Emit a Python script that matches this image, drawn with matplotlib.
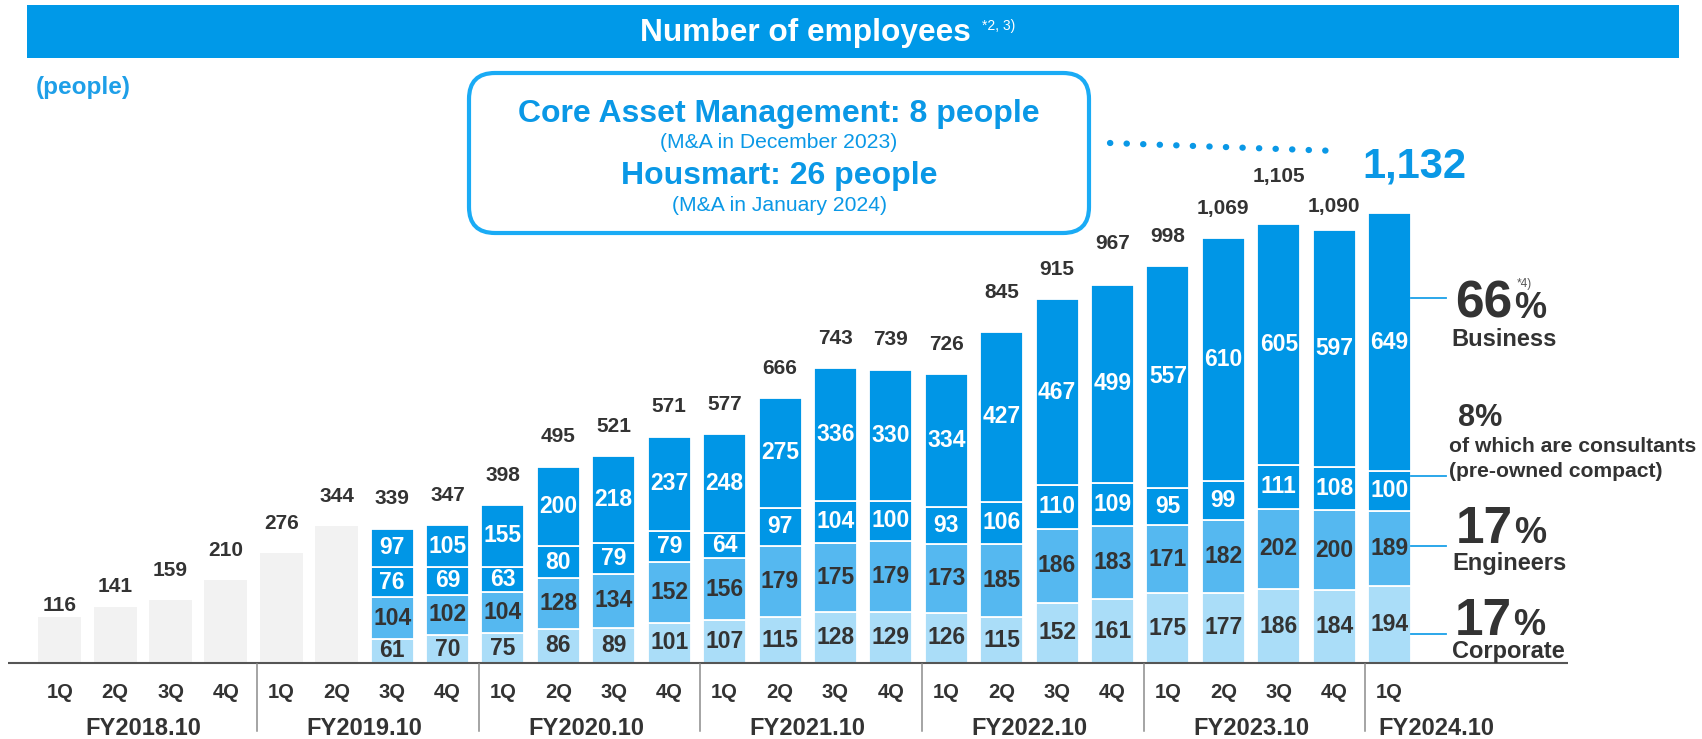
import matplotlib
matplotlib.use("Agg")
import matplotlib.pyplot as plt
from matplotlib.patches import FancyBboxPatch, Rectangle
from matplotlib.transforms import blended_transform_factory

# ---------------- data ----------------
quarters = ["1Q", "2Q", "3Q", "4Q"] * 6 + ["1Q"]
fiscal_years = ["FY2018.10", "FY2019.10", "FY2020.10", "FY2021.10",
                "FY2022.10", "FY2023.10", "FY2024.10"]
quarters_per_year = [4, 4, 4, 4, 4, 4, 1]
totals = [116, 141, 159, 210, 276, 344, 339, 347, 398, 495, 521, 571, 577,
          666, 743, 739, 726, 845, 915, 967, 998, 1069, 1105, 1090, 1132]

# breakdown is available from FY2019.10 3Q onwards
first_split = 6
corporate = [61, 70, 75, 86, 89, 101, 107, 115, 128, 129, 126, 115, 152, 161,
             175, 177, 186, 184, 194]
engineers = [104, 102, 104, 128, 134, 152, 156, 179, 175, 179, 173, 185, 186,
             183, 171, 182, 202, 200, 189]
consultants = [76, 69, 63, 80, 79, 79, 64, 97, 104, 100, 93, 106, 110, 109,
               95, 99, 111, 108, 100]
business = [97, 105, 155, 200, 218, 237, 248, 275, 336, 330, 334, 427, 467,
            499, 557, 610, 605, 597, 649]

share_values = ["66", "8", "17", "17"]
share_names = ["Business", "of which are consultants", "(pre-owned compact)",
               "Engineers", "Corporate"]

# ---------------- style ----------------
W, H = 1702, 739
FONT = "Liberation Sans"
plt.rcParams["font.family"] = [FONT, "DejaVu Sans"]

DARK = "#333333"
BLUE = "#0096E6"
MID = "#55B8F0"
LIGHT = "#AADDF8"
GREY = "#F2F2F2"
BANNER = "#0099E8"
TXT_BLUE = "#0A98E6"
BOX_EDGE = "#1AABF5"

PX_PER_BAR = 55.41
X0 = 59.7           # pixel x of first bar centre
BASE_Y = 663.0      # pixel y of the baseline
PX_PER_PERSON = 0.3975

# gap (px) between a total label's baseline and its bar top
label_gap = [6, 15, 24, 24, 24, 24, 24, 24, 24, 24, 24, 24, 24,
             24, 24, 24, 24, 29, 24, 30, 24, 24, 42, 18, 24]

fig = plt.figure(figsize=(W / 100, H / 100), dpi=100)
ax = fig.add_axes([0, 0, 1, 1])
ax.set_xlim(-X0 / PX_PER_BAR, (W - X0) / PX_PER_BAR)
ax.set_ylim(-(H - BASE_Y) / PX_PER_PERSON, BASE_Y / PX_PER_PERSON)
ax.axis("off")

# pixel-space overlay for the decorations
px = fig.add_axes([0, 0, 1, 1], zorder=3)
px.set_xlim(0, W)
px.set_ylim(H, 0)
px.axis("off")
px.patch.set_alpha(0)

bx = blended_transform_factory(ax.transData, px.transData)

n = len(totals)
idx = list(range(n))
bar_w = 43 / PX_PER_BAR

# grey bars (no breakdown)
ax.bar(idx[:first_split], totals[:first_split], width=bar_w, color=GREY,
       linewidth=0, zorder=2)

# stacked bars
sx = idx[first_split:]
bottom = [0] * len(sx)
layers = [(corporate, LIGHT, DARK), (engineers, MID, DARK),
          (consultants, BLUE, "white"), (business, BLUE, "white")]
for vals, col, tcol in layers:
    ax.bar(sx, vals, bottom=bottom, width=bar_w, color=col,
           edgecolor="white", linewidth=1.3, zorder=2)
    for x, v, b in zip(sx, vals, bottom):
        ax.text(x, b + v / 2, f"{v}", ha="center", va="center",
                fontsize=16.5, fontweight="bold", color=tcol, zorder=4)
    bottom = [b + v for b, v in zip(bottom, vals)]

# totals above the bars
for i, t in enumerate(totals):
    if i == n - 1:
        continue
    ax.annotate(f"{t:,}", xy=(i, t), xytext=(0, label_gap[i] * 0.72),
                textcoords="offset points", ha="center", va="baseline",
                fontsize=15, fontweight="bold", color=DARK, zorder=4)

# baseline
px.plot([8, 1568], [BASE_Y, BASE_Y], color="#555555", lw=1.5,
        solid_capstyle="butt")

# quarter labels
for i, q in enumerate(quarters):
    px.text(i, 697.7, q, transform=bx, ha="center", va="baseline",
            fontsize=14.5, fontweight="bold", color=DARK)

# fiscal year labels and separators
start = 0
for k, (fy, nq) in enumerate(zip(fiscal_years, quarters_per_year)):
    centre = start + (nq - 1) / 2
    if nq == 1:
        centre = start + 0.85
    px.text(centre, 735, fy, transform=bx, ha="center", va="baseline",
            fontsize=17, fontweight="bold", color=DARK)
    if k > 0:
        px.plot([start - 0.44, start - 0.44], [664, 731], transform=bx,
                color="#8C8C8C", lw=1.1)
    start += nq

# title banner
px.add_patch(Rectangle((27, 5), 1652, 52.5, facecolor=BANNER,
                       edgecolor="none"))
px.text(805.5, 41, "Number of employees", ha="center", va="baseline",
        fontsize=22.8, fontweight="bold", color="white")
px.text(982, 30, "*2, 3)", ha="left", va="baseline", fontsize=10,
        color="white")

px.text(36, 94, "(people)", ha="left", va="baseline", fontsize=17.5,
        fontweight="bold", color="#1E9FE8")

# acquisitions box
px.add_patch(FancyBboxPatch((469, 73), 620, 160,
                            boxstyle="round,pad=0,rounding_size=26",
                            facecolor="white", edgecolor=BOX_EDGE, lw=3))
px.text(779, 122, "Core Asset Management: 8 people", ha="center",
        va="baseline", fontsize=23, fontweight="bold", color=TXT_BLUE)
px.text(779, 148, "(M&A in December 2023)", ha="center", va="baseline",
        fontsize=15.2, color=TXT_BLUE)
px.text(779, 184, "Housmart: 26 people", ha="center", va="baseline",
        fontsize=23, fontweight="bold", color=TXT_BLUE)
px.text(779, 211, "(M&A in January 2024)", ha="center", va="baseline",
        fontsize=15.2, color=TXT_BLUE)

# dotted leader to the latest total
px.plot([1110, 1337], [143, 151], color=TXT_BLUE, lw=4.5,
        linestyle=(0, (0.05, 2.6)), dash_capstyle="round")
px.text(1414, 177.3, f"{totals[-1]:,}", ha="center", va="baseline",
        fontsize=30, fontweight="bold", color=TXT_BLUE)

# composition call-outs for the latest quarter
line_y = [297.7, 476, 546, 634]
for y in line_y:
    px.plot([1411, 1446], [y, y], color="#1AA0E8", lw=1.3)

big = dict(ha="left", va="baseline", fontweight="bold", color=DARK)
px.text(1455, 318, share_values[0], fontsize=37, **big)
px.text(1514, 318, "%", fontsize=26, **big)
px.text(1517, 287, "*4)", ha="left", va="baseline", fontsize=8.5,
        color="#555555")
px.text(1451, 346, share_names[0], fontsize=17, **big)

px.text(1458, 426, share_values[1] + "%", fontsize=22, **big)
px.text(1449, 452, share_names[1], fontsize=15.2, **big)
px.text(1449, 477, share_names[2], fontsize=15.2, **big)

px.text(1456, 543, share_values[2], fontsize=37, **big)
px.text(1514, 543, "%", fontsize=26, **big)
px.text(1452, 570, share_names[3], fontsize=17, **big)

px.text(1455, 635, share_values[3], fontsize=37, **big)
px.text(1513, 635, "%", fontsize=26, **big)
px.text(1452, 658, share_names[4], fontsize=17, **big)

fig.savefig("out.png", dpi=100)
